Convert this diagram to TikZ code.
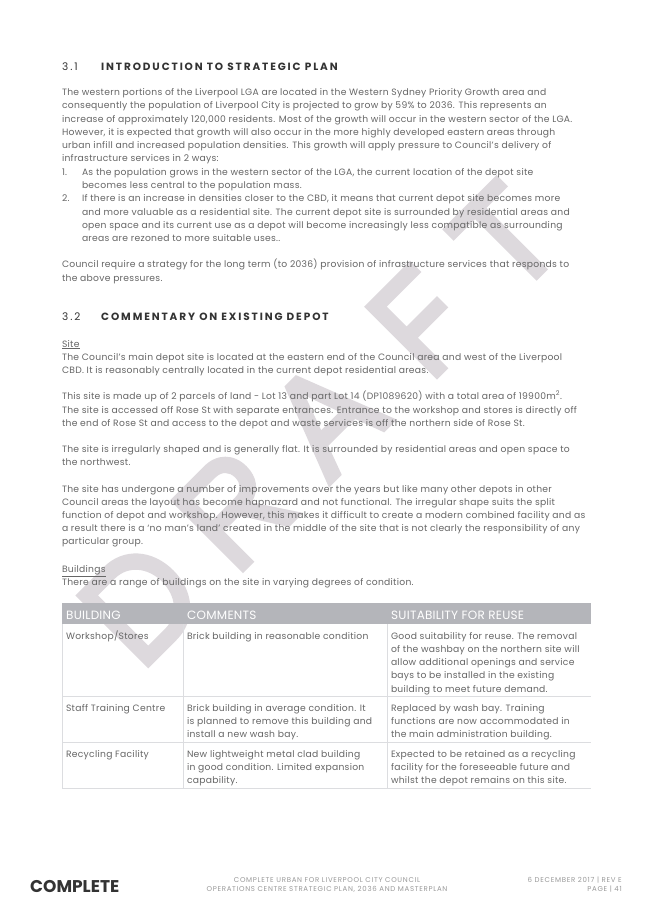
\documentclass[tikz,border=0pt]{standalone}
\usepackage{fontspec}
\setmainfont{Poppins}
\definecolor{bodyc}{HTML}{666666}
\definecolor{headc}{HTML}{333333}
\definecolor{wm}{HTML}{DDD9DD}
\definecolor{thead}{HTML}{B4B5BA}
\definecolor{tline}{HTML}{DCDDE0}
\definecolor{footc}{HTML}{999999}
\newcount\lnc
\tikzset{x=1pt,y=-1pt,
 bodytxt/.style={anchor=base west,inner sep=0pt,outer sep=0pt,text=bodyc,font=\fontsize{9.2}{11}\selectfont\addfontfeatures{LetterSpace=3}},
 headtxt/.style={anchor=base west,inner sep=0pt,text=headc,font=\fontsize{10.5}{12}\selectfont\addfontfeatures{LetterSpace=18}},
 thtxt/.style={anchor=base west,inner sep=0pt,text=white,font=\fontsize{12}{14}\selectfont\addfontfeatures{LetterSpace=2}},
 foottxt/.style={inner sep=0pt,text=footc,font=\fontsize{7}{8}\selectfont\addfontfeatures{LetterSpace=10}},
 wmfill/.style={fill=wm,draw=none,even odd rule},
 letterframe/.style={x={(0.7071pt,0.7071pt)},y={(-0.7071pt,0.7071pt)}},
 rule/.style={draw=tline,line width=1pt}}
\newcommand\tl[3]{\global\advance\lnc by 1 \node[bodytxt] (line\the\lnc) at (#1,#2) {#3};}
\begin{document}
\begin{tikzpicture}
\useasboundingbox (0,0) rectangle (653,924);
\fill[white] (0,0) rectangle (653,924);
% watermark letters D R A F T
\begin{scope}[shift={(148.25,668.25)},letterframe]
\fill[wmfill] (0,0) -- (40,0) .. controls (68,0) and (87,22) .. (87,51.5) .. controls (87,81) and (68,103) .. (40,103) -- (0,103) -- cycle
 (16,16) -- (16,87) -- (40,87) .. controls (58,87) and (71,72) .. (71,51.5) .. controls (71,31) and (58,16) .. (40,16) -- cycle;
\end{scope}
\begin{scope}[shift={(243,573)},letterframe]
\fill[wmfill] (0,0) -- (0,103) -- (48,103) .. controls (66,103) and (78,91) .. (78,73) .. controls (78,58) and (70,47) .. (56,44) -- (85,0) -- (65,0) -- (38,43) -- (16,43) -- (16,0) -- cycle
 (16,59) -- (16,87) -- (48,87) .. controls (57,87) and (62,81) .. (62,73) .. controls (62,65) and (57,59) .. (48,59) -- cycle;
\end{scope}
\begin{scope}[shift={(329,487.5)},letterframe]
\fill[wmfill] (0,0) -- (40,103) -- (56,103) -- (96,0) -- (78,0) -- (67,30) -- (29,30) -- (18,0) -- cycle
 (35,46) -- (61,46) -- (48,82) -- cycle;
\end{scope}
\begin{scope}[shift={(437,379.5)},letterframe]
\fill[wmfill] (0,0) -- (0,103) -- (65,103) -- (65,87) -- (16,87) -- (16,59) -- (59,59) -- (59,43) -- (16,43) -- (16,0) -- cycle;
\end{scope}
\begin{scope}[shift={(515.1,302.3)},letterframe]
\fill[wmfill] (30.5,0) -- (30.5,87) -- (0,87) -- (0,103) -- (77,103) -- (77,87) -- (46.5,87) -- (46.5,0) -- cycle;
\end{scope}
% headings
\node[headtxt] (h1n) at (62,70) {3.1};
\node[headtxt] (h1) at (101,70) {\bfseries INTRODUCTION TO STRATEGIC PLAN};
\node[headtxt] (h2n) at (62,320) {3.2};
\node[headtxt] (h2) at (101,320) {\bfseries COMMENTARY ON EXISTING DEPOT};
% body
\tl{62}{95}{The western portions of the Liverpool LGA are located in the Western Sydney Priority Growth area and}
\tl{62}{108}{consequently the population of Liverpool City is projected to grow by 59\% to 2036. This represents an}
\tl{62}{122}{increase of approximately 120,000 residents. Most of the growth will occur in the western sector of the LGA.}
\tl{62}{135}{However, it is expected that growth will also occur in the more highly developed eastern areas through}
\tl{62}{148}{urban infill and increased population densities. This growth will apply pressure to Council's delivery of}
\tl{62}{161}{infrastructure services in 2 ways:}
\tl{62}{175}{1.}
\tl{82}{175}{As the population grows in the western sector of the LGA, the current location of the depot site}
\tl{82}{188}{becomes less central to the population mass.}
\tl{62}{201}{2.}
\tl{82}{201}{If there is an increase in densities closer to the CBD, it means that current depot site becomes more}
\tl{82}{215}{and more valuable as a residential site. The current depot site is surrounded by residential areas and}
\tl{82}{228}{open space and its current use as a depot will become increasingly less compatible as surrounding}
\tl{82}{241}{areas are rezoned to more suitable uses..}
\tl{62}{267}{Council require a strategy for the long term (to 2036) provision of infrastructure services that responds to}
\tl{62}{281}{the above pressures.}
\tl{62}{347}{\underline{Site}}
\tl{62}{360}{The Council's main depot site is located at the eastern end of the Council area and west of the Liverpool}
\tl{62}{373}{CBD. It is reasonably centrally located in the current depot residential areas.}
\tl{62}{399}{This site is made up of 2 parcels of land - Lot 13 and part Lot 14 (DP1089620) with a total area of 19900m\textsuperscript{2}.}
\tl{62}{413}{The site is accessed off Rose St with separate entrances. Entrance to the workshop and stores is directly off}
\tl{62}{426}{the end of Rose St and access to the depot and waste services is off the northern side of Rose St.}
\tl{62}{452}{The site is irregularly shaped and is generally flat. It is surrounded by residential areas and open space to}
\tl{62}{465}{the northwest.}
\tl{62}{492}{The site has undergone a number of improvements over the years but like many other depots in other}
\tl{62}{505}{Council areas the layout has become hapnazard and not functional. The irregular shape suits the split}
\tl{62}{518}{function of depot and workshop. However, this makes it difficult to create a modern combined facility and as}
\tl{62}{531}{a result there is a `no man's land' created in the middle of the site that is not clearly the responsibility of any}
\tl{62}{544}{particular group.}
\tl{62}{572}{\underline{Buildings}}
\tl{62}{585}{There are a range of buildings on the site in varying degrees of condition.}
% table
\fill[thead] (62,603) rectangle (591,624);
\draw[rule] (62,696) -- (591,696);
\draw[rule] (62,742) -- (591,742);
\draw[rule] (62,788) -- (591,788);
\draw[rule] (62,624) -- (62,788);
\draw[rule] (183,624) -- (183,788);
\draw[rule] (387,624) -- (387,788);
\node[thtxt] (th1) at (66,619) {BUILDING};
\node[thtxt] (th2) at (187,619) {COMMENTS};
\node[thtxt] (th3) at (391,619) {SUITABILITY FOR REUSE};
\tl{66}{639}{Workshop/Stores}
\tl{187}{639}{Brick building in reasonable condition}
\tl{391}{639}{Good suitability for reuse. The removal}
\tl{391}{652}{of the washbay on the northern site will}
\tl{391}{665}{allow additional openings and service}
\tl{391}{678}{bays to be installed in the existing}
\tl{391}{692}{building to meet future demand.}
\tl{66}{711}{Staff Training Centre}
\tl{187}{711}{Brick building in average condition. It}
\tl{187}{724}{is planned to remove this building and}
\tl{187}{737}{install a new wash bay.}
\tl{391}{711}{Replaced by wash bay. Training}
\tl{391}{724}{functions are now accommodated in}
\tl{391}{737}{the main administration building.}
\tl{66}{757}{Recycling Facility}
\tl{187}{757}{New lightweight metal clad building}
\tl{187}{770}{in good condition. Limited expansion}
\tl{187}{783}{capability.}
\tl{391}{757}{Expected to be retained as a recycling}
\tl{391}{770}{facility for the foreseeable future and}
\tl{391}{783}{whilst the depot remains on this site.}
% footer
\node[anchor=base west,inner sep=0pt,text=headc,font=\fontsize{17}{18}\selectfont\bfseries] (logo) at (30,892) {COMPLETE};
\node[foottxt] (f1) at (327,880) {COMPLETE URBAN FOR LIVERPOOL CITY COUNCIL};
\node[foottxt] (f2) at (327,889) {OPERATIONS CENTRE STRATEGIC PLAN, 2036 AND MASTERPLAN};
\node[foottxt,anchor=east] (f3) at (622,880) {6 DECEMBER 2017 | REV E};
\node[foottxt,anchor=east] (f4) at (622,889) {PAGE | 41};
\end{tikzpicture}
\end{document}
